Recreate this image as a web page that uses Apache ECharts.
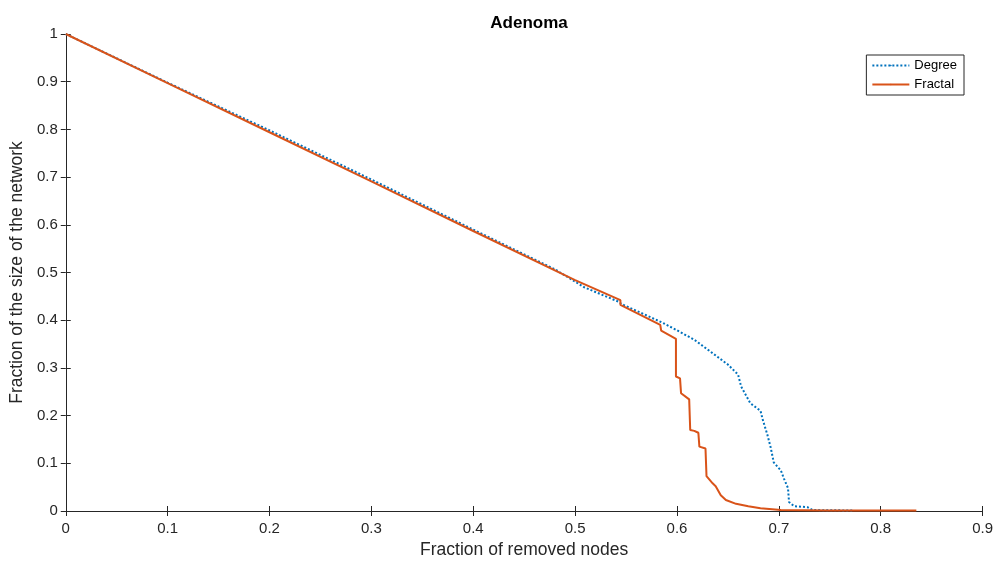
<!DOCTYPE html>
<html>
<head>
<meta charset="utf-8">
<script src="https://cdn.jsdelivr.net/npm/echarts@6/dist/echarts.min.js"></script>
<style>
  html, body { margin: 0; padding: 0; background: #fff; }
  #chart { width: 996px; height: 564px; }
</style>
</head>
<body>
<div id="chart"></div>
<script>
// values
var degreeX = [0, 0.1, 0.2, 0.3, 0.4, 0.48, 0.509, 0.5435, 0.5455, 0.5846, 0.599, 0.617, 0.633, 0.650,
  0.660, 0.663, 0.672, 0.682, 0.684, 0.689, 0.692, 0.695, 0.702, 0.705, 0.709, 0.710, 0.715, 0.728, 0.733, 0.773];
var degreeY = [1, 0.898, 0.798, 0.695, 0.590, 0.507, 0.469, 0.438, 0.434, 0.396, 0.380, 0.359, 0.334, 0.307,
  0.286, 0.261, 0.226, 0.210, 0.193, 0.158, 0.133, 0.102, 0.085, 0.068, 0.048, 0.019, 0.010, 0.008, 0.002, 0.001];

var fractalX = [0, 0.1, 0.2, 0.3, 0.4, 0.5, 0.5445, 0.5445, 0.5836, 0.5845, 0.599, 0.599, 0.603, 0.604, 0.612,
  0.613, 0.617, 0.621, 0.622, 0.628, 0.629, 0.635, 0.638, 0.643, 0.648, 0.658, 0.670, 0.682, 0.702, 0.75, 0.835];
var fractalY = [1, 0.897, 0.794, 0.691, 0.587, 0.484, 0.442, 0.432, 0.390, 0.378, 0.361, 0.282, 0.278, 0.247, 0.234,
  0.170, 0.168, 0.164, 0.135, 0.131, 0.073, 0.058, 0.052, 0.033, 0.023, 0.015, 0.010, 0.006, 0.002, 0.001, 0.001];

function pairs(xs, ys) {
  return xs.map(function(x, i) { return [x, ys[i]]; });
}

var axisColor = "#262626";
var font = "Arial, 'Liberation Sans', sans-serif";

function fmt(v) {
  return String(Math.round(v * 10) / 10);
}

var chart = echarts.init(document.getElementById("chart"), null, {renderer: "canvas"});

var baseAxis = {
  type: "value",
  interval: 0.1,
  axisLine: {show: true, lineStyle: {color: axisColor, width: 1}},
  axisTick: {show: true, inside: true, length: 5, lineStyle: {color: axisColor}},
  splitLine: {show: false},
  axisLabel: {color: axisColor, fontFamily: font, fontSize: 15, formatter: fmt}
};

var nameStyle = {fontFamily: font, fontSize: 17.5, color: axisColor};

chart.setOption({
  animation: false,
  backgroundColor: "#fff",
  title: {
    text: "Adenoma",
    left: 524, top: 10, textAlign: "center",
    textStyle: {fontFamily: font, fontSize: 17, fontWeight: "bold", color: "#000"}
  },
  grid: {left: 63, right: 11, top: 34, bottom: 48, containLabel: false},
  legend: {
    data: ["Degree", "Fractal"],
    orient: "vertical",
    right: 32, top: 55,
    itemWidth: 37, itemHeight: 2, itemGap: 6,
    padding: [4, 7, 4, 5],
    borderColor: axisColor, borderWidth: 1,
    backgroundColor: "#fff",
    textStyle: {fontFamily: font, fontSize: 13, color: "#000"}
  },
  xAxis: [
    Object.assign({}, baseAxis, {
      min: 0, max: 0.9,
      name: "Fraction of removed nodes",
      nameLocation: "middle", nameGap: 30,
      nameTextStyle: nameStyle,
      axisLabel: Object.assign({}, baseAxis.axisLabel, {margin: 10})
    }),
    Object.assign({}, baseAxis, {
      min: 0, max: 0.9, position: "top",
      axisLabel: {show: false}
    })
  ],
  yAxis: [
    Object.assign({}, baseAxis, {
      min: 0, max: 1,
      name: "Fraction of the size of the network",
      nameLocation: "middle", nameGap: 29,
      nameTextStyle: nameStyle,
      axisLabel: Object.assign({}, baseAxis.axisLabel, {margin: 8})
    }),
    Object.assign({}, baseAxis, {
      min: 0, max: 1, position: "right",
      axisLabel: {show: false}
    })
  ],
  series: [
    {
      name: "Degree",
      type: "line",
      data: pairs(degreeX, degreeY),
      showSymbol: false, symbol: "none",
      color: "#0072BD",
      lineStyle: {color: "#0072BD", width: 2, type: [2, 2]},
      z: 2
    },
    {
      name: "Fractal",
      type: "line",
      data: pairs(fractalX, fractalY),
      showSymbol: false, symbol: "none",
      color: "#D95319",
      lineStyle: {color: "#D95319", width: 2},
      z: 3
    }
  ]
});
</script>
</body>
</html>
